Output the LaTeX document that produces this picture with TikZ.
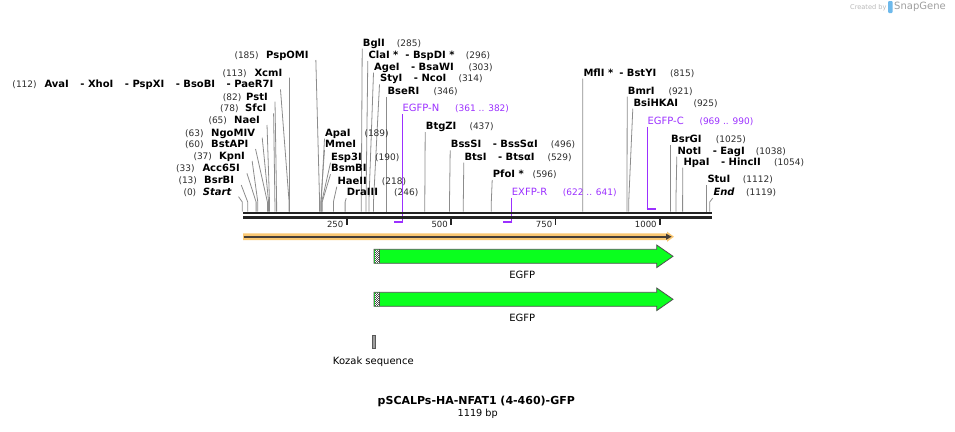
\documentclass[tikz,border=0pt]{standalone}
\usepackage{fontspec}
\setmainfont{DejaVu Sans}
\definecolor{numc}{RGB}{45,45,45}
\definecolor{linec}{RGB}{140,140,140}
\definecolor{barc}{RGB}{35,35,35}
\definecolor{primc}{RGB}{155,48,255}
\definecolor{egfpc}{RGB}{10,255,30}
\definecolor{outc}{RGB}{80,80,80}
\definecolor{orangec}{RGB}{250,200,115}
\definecolor{darkc}{RGB}{70,62,55}
\definecolor{sgblue}{RGB}{110,185,235}
% right-side label: id, name x, centre y, name, number x, number, site x
\newcommand{\EnzR}[7]{%
  \node[nm, anchor=base west] (#1) at (#2,#3+3.6) {#4};
  \node[num, anchor=base west] (#1n) at (#5,#3+3.6) {#6};
  \coordinate (#1k) at (#7,202);
  \coordinate (#1s) at (#7,211.5);
  \draw[ld] ([shift={(-0.5pt,-2.4pt)}]#1.base west) -- (#1k) -- (#1s);
}
% right-side label without number: id, name x, centre y, name, site x
\newcommand{\EnzRN}[5]{%
  \node[nm, anchor=base west] (#1) at (#2,#3+3.6) {#4};
  \coordinate (#1k) at (#5,202);
  \coordinate (#1s) at (#5,211.5);
  \draw[ld] ([shift={(-0.5pt,-2.4pt)}]#1.base west) -- (#1k) -- (#1s);
}
% left-side label: id, name x, centre y, name, number x, number, site x
\newcommand{\EnzL}[7]{%
  \node[nm, anchor=base west] (#1) at (#2,#3+3.6) {#4};
  \node[num, anchor=base west] (#1n) at (#5,#3+3.6) {#6};
  \coordinate (#1k) at (#7,202);
  \coordinate (#1s) at (#7,211.5);
  \draw[ld] ([shift={(7pt,-1.4pt)}]#1.base east) -- (#1k) -- (#1s);
}
\begin{document}
\begin{tikzpicture}[x=1pt,y=-1pt,
  nm/.style={inner sep=0pt, font=\fontsize{10}{12}\selectfont\bfseries, text=black},
  num/.style={inner sep=0pt, font=\fontsize{9}{11}\selectfont, text=numc},
  ld/.style={draw=linec, line width=0.8pt},
  pnm/.style={inner sep=0pt, font=\fontsize{10}{12}\selectfont, text=primc},
  pnum/.style={inner sep=0pt, font=\fontsize{9}{11}\selectfont, text=primc},
  pline/.style={draw=primc, line width=1.2pt},
  pbar/.style={draw=primc, line width=2.2pt},
  tick/.style={draw=barc, line width=1.7pt},
  ticklab/.style={inner sep=0pt, font=\fontsize{8.5}{10}\selectfont, text=barc, anchor=base east},
  feat/.style={draw=outc, line width=0.8pt, fill=egfpc},
  flab/.style={inner sep=0pt, font=\fontsize{10}{12}\selectfont, text=black}
]
\useasboundingbox (0,0) rectangle (955,431);

% ---------- SnapGene credit ----------
\node[inner sep=0pt, anchor=west, font=\fontsize{6.6}{8}\selectfont, text=black!28] (cby) at (850,7.3) {Created by};
\fill[sgblue, rounded corners=1pt] (888,1) rectangle (892.5,13);
\node[inner sep=0pt, anchor=west, font=\fontsize{10}{12}\selectfont, text=black!38] (sg) at (894,7.3) {SnapGene};

% ---------- enzyme labels, left side ----------
\EnzL{a1}{266}{55}{PspOMI}{234.3}{(185)}{319.6}
\EnzL{a2}{254.3}{72.7}{XcmI}{222.3}{(113)}{289.5}
\EnzL{a3}{44.3}{84.3}{AvaI\hspace{11.5pt}- XhoI\hspace{11.5pt}- PspXI\hspace{11.5pt}- BsoBI\hspace{11.5pt}- PaeR7I}{12.3}{(112)}{289.1}
\EnzL{a4}{246}{96.7}{PstI}{222.7}{(82)}{276.6}
\EnzL{a5}{245}{108.3}{SfcI}{220}{(78)}{274.9}
\EnzL{a6}{234}{120}{NaeI}{208.3}{(65)}{269.5}
\EnzL{a7}{211}{132.7}{NgoMIV}{185}{(63)}{268.6}
\EnzL{a8}{211}{144}{BstAPI}{185}{(60)}{267.4}
\EnzL{a9}{219}{156}{KpnI}{193.3}{(37)}{257.8}
\EnzL{a10}{202.3}{168.3}{Acc65I}{176}{(33)}{256.1}
\EnzL{a11}{204}{180}{BsrBI}{178.3}{(13)}{247.7}
\EnzL{a12}{202.7}{191.7}{\itshape Start}{183.3}{(0)}{242.3}

% ---------- enzyme labels, right side ----------
\EnzR{b1}{362.7}{42.7}{BglI}{396.7}{(285)}{361.3}
\EnzR{b2}{368.3}{55}{ClaI *\hspace{7pt}- BspDI *}{465.7}{(296)}{366.0}
\EnzR{b3}{374}{66.7}{AgeI\hspace{11.5pt}- BsaWI}{468.3}{(303)}{368.9}
\EnzR{b4}{380}{78.3}{StyI\hspace{11.5pt}- NcoI}{458.3}{(314)}{373.5}
\EnzR{b5}{387.3}{90.7}{BseRI}{433.3}{(346)}{386.8}
\EnzR{b6}{325}{132.7}{ApaI}{364.3}{(189)}{321.2}
\EnzRN{b7}{325}{144}{MmeI}{320.8}
\EnzR{b8}{331}{156.7}{Esp3I}{375}{(190)}{321.7}
\EnzRN{b9}{331}{168.3}{BsmBI}{322.2}
\EnzR{b10}{337.3}{180.7}{HaeII}{381.7}{(218)}{333.4}
\EnzR{b11}{346.7}{192.3}{DraIII}{394}{(246)}{345.1}
\EnzR{b12}{425.7}{126}{BtgZI}{469.3}{(437)}{424.8}
\EnzR{b13}{450.7}{144.3}{BssSI\hspace{11.5pt}- BssSαI}{550.7}{(496)}{449.5}
\EnzR{b14}{464.3}{156.7}{BtsI\hspace{11.5pt}- BtsαI}{547.3}{(529)}{463.3}
\EnzR{b15}{492.7}{174}{PfoI *}{532.3}{(596)}{491.3}
\EnzR{b16}{583.3}{72.7}{MflI *\hspace{6pt}- BstYI}{670}{(815)}{582.7}
\EnzR{b17}{627.7}{90.7}{BmrI}{668.3}{(921)}{627.0}
\EnzR{b18}{633.3}{102.7}{BsiHKAI}{693.3}{(925)}{628.7}
\EnzR{b19}{671}{139}{BsrGI}{715.7}{(1025)}{670.4}
\EnzR{b20}{677.3}{150.7}{NotI\hspace{11.5pt}- EagI}{755.7}{(1038)}{675.9}
\EnzR{b21}{683.3}{161.7}{HpaI\hspace{11.5pt}- HincII}{774}{(1054)}{682.6}
\EnzR{b22}{707.3}{179.3}{StuI}{742.7}{(1112)}{706.8}
\EnzR{b23}{713.3}{192}{\itshape End}{746}{(1119)}{709.7}

% ---------- primers ----------
\node[pnm, anchor=base west] (pN) at (402.3,108.3+3.6) {EGFP-N};
\node[pnum, anchor=base west] (pNn) at (455,108.3+3.6) {(361 .. 382)};
\coordinate (pNk) at (402.3,221.7);
\coordinate (pNe) at (393.8,221.7);
\draw[pline] ([yshift=-2.5pt]pN.base west) -- (pNk);
\draw[pbar] ([xshift=0.6pt]pNk) -- (pNe);

\node[pnm, anchor=base west] (pR) at (511.7,191.7+3.6) {EXFP-R};
\node[pnum, anchor=base west] (pRn) at (562.7,191.7+3.6) {(622 .. 641)};
\coordinate (pRk) at (511.7,221.7);
\coordinate (pRe) at (502.6,221.7);
\draw[pline] ([yshift=-2.5pt]pR.base west) -- (pRk);
\draw[pbar] ([xshift=0.6pt]pRk) -- (pRe);

\node[pnm, anchor=base west] (pC) at (647.3,120.7+3.6) {EGFP-C};
\node[pnum, anchor=base west] (pCn) at (699.3,120.7+3.6) {(969 .. 990)};
\coordinate (pCk) at (647.3,208.6);
\coordinate (pCe) at (656.2,208.6);
\draw[pline] ([yshift=-2.5pt]pC.base west) -- (pCk);
\draw[pbar] ([xshift=-0.6pt]pCk) -- (pCe);

% ---------- sequence bar ----------
\draw[barc, line width=2.7pt] (243,213) -- (711.5,213);
\draw[barc, line width=2.7pt] (243,217.6) -- (711.5,217.6);

% ticks
\draw[tick] (346.7,219) -- (346.7,224.5);
\draw[tick] (451.2,219) -- (451.2,224.5);
\draw[tick] (555.6,219) -- (555.6,224.5);
\draw[tick] (660.0,219) -- (660.0,224.5);
\node[ticklab] (t1) at (343.5,224.3+3.1) {250};
\node[ticklab] (t2) at (448.0,224.3+3.1) {500};
\node[ticklab] (t3) at (552.4,224.3+3.1) {750};
\node[ticklab] (t4) at (656.8,224.3+3.1) {1000};

% ---------- orange ORF arrow ----------
\fill[orangec] (243,233.4) -- (667,233.4) -- (667,231.6) -- (674,236.7) -- (667,241.8) -- (667,240) -- (243,240) -- cycle;
\draw[darkc, line width=1.8pt] (243.5,236.7) -- (667,236.7);
\fill[darkc] (666,233.6) -- (671.6,236.7) -- (666,239.8) -- cycle;

% ---------- EGFP features ----------
\draw[feat] (374,249.3) -- (656.7,249.3) -- (656.7,245) -- (673,256.3) -- (656.7,267.6) -- (656.7,263.3) -- (374,263.3) -- cycle;
\draw[feat] (374,292.3) -- (656.7,292.3) -- (656.7,288) -- (673,299.3) -- (656.7,310.6) -- (656.7,306.3) -- (374,306.3) -- cycle;
\foreach \yy in {249.8,292.8}{
  \fill[white] (374.5,\yy) rectangle (378.8,\yy+13);
  \foreach \i in {0,...,3}{
    \foreach \j in {0,...,12}{
      \pgfmathtruncatemacro{\cpar}{mod(\i+\j,2)}
      \ifnum\cpar=0 \fill[black!70] (374.5+\i*1.075,\yy+\j) rectangle ++(1.075,1);\fi
    }
  }
  \draw[outc, line width=0.6pt] (378.9,\yy-0.5) -- (378.9,\yy+13.5);
}
\node[flab] (f1) at (522.2,275) {EGFP};
\node[flab] (f2) at (522.2,318.3) {EGFP};

% ---------- Kozak ----------
\draw[draw=black!65, fill=black!38, line width=0.8pt] (372,335.3) rectangle (375.8,348.3);
\node[flab] (koz) at (373.3,361.7) {Kozak sequence};

% ---------- title ----------
\node[inner sep=0pt, font=\fontsize{11}{13}\selectfont\bfseries] (title) at (476.3,401) {pSCALPs-HA-NFAT1 (4-460)-GFP};
\node[inner sep=0pt, font=\fontsize{9.7}{12}\selectfont] (len) at (477.7,414.3) {1119 bp};
\end{tikzpicture}
\end{document}
